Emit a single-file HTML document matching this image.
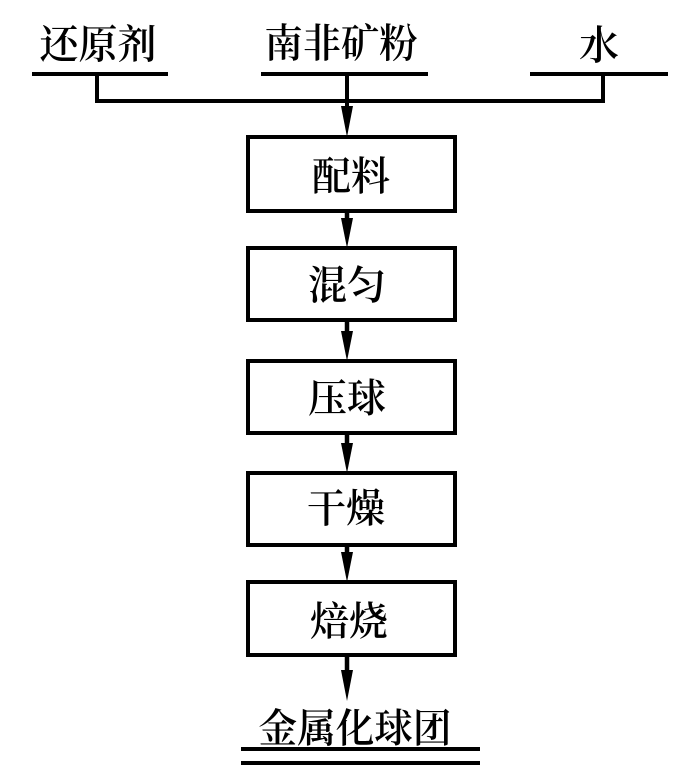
<!DOCTYPE html>
<html><head><meta charset="utf-8"><style>
html,body{margin:0;padding:0;background:#fff}
svg{display:block}
text{font-family:"Liberation Serif","Noto Serif CJK SC",serif;font-weight:600;fill:#000;text-anchor:middle}
</style></head><body>
<svg width="700" height="779" viewBox="0 0 700 779" xmlns="http://www.w3.org/2000/svg">
<g stroke="#000" stroke-width="4" fill="none">
<path d="M32 74H168M261 74H428M530 74H668"/>
<path d="M97 74V101H603V74M347 74V110"/>
<rect x="248" y="137" width="207" height="74"/>
<rect x="248" y="248" width="207" height="72"/>
<rect x="248" y="361" width="207" height="72"/>
<rect x="248" y="473" width="207" height="72"/>
<rect x="248" y="582" width="207" height="73"/>
<path d="M347 211V225M347 320V335M347 433V447M347 545V558M347 655V672" stroke-width="4.500"/>
<path d="M241 749H480M241 763H480"/>
</g>
<g fill="#000">
<path d="M341 106H353L347 137Z"/>
<path d="M341 218H353L347 248Z"/>
<path d="M341 331H353L347 361Z"/>
<path d="M341 443H353L347 473Z"/>
<path d="M341 552H353L347 582Z"/>
<path d="M341 670H353L347 701Z"/>
</g>
<text x="98" y="58" font-size="40" textLength="117" lengthAdjust="spacingAndGlyphs">还原剂</text>
<text x="341" y="57" font-size="40" textLength="153" lengthAdjust="spacingAndGlyphs">南非矿粉</text>
<text x="599" y="59" font-size="40">水</text>
<text x="351" y="190" font-size="40" textLength="78" lengthAdjust="spacingAndGlyphs">配料</text>
<text x="347" y="299" font-size="40" textLength="78" lengthAdjust="spacingAndGlyphs">混匀</text>
<text x="347" y="412" font-size="40" textLength="78" lengthAdjust="spacingAndGlyphs">压球</text>
<text x="346" y="522" font-size="40" textLength="78" lengthAdjust="spacingAndGlyphs">干燥</text>
<text x="349" y="635" font-size="40" textLength="78" lengthAdjust="spacingAndGlyphs">焙烧</text>
<text x="355" y="742" font-size="40" textLength="193" lengthAdjust="spacingAndGlyphs">金属化球团</text>
</svg>
</body></html>
